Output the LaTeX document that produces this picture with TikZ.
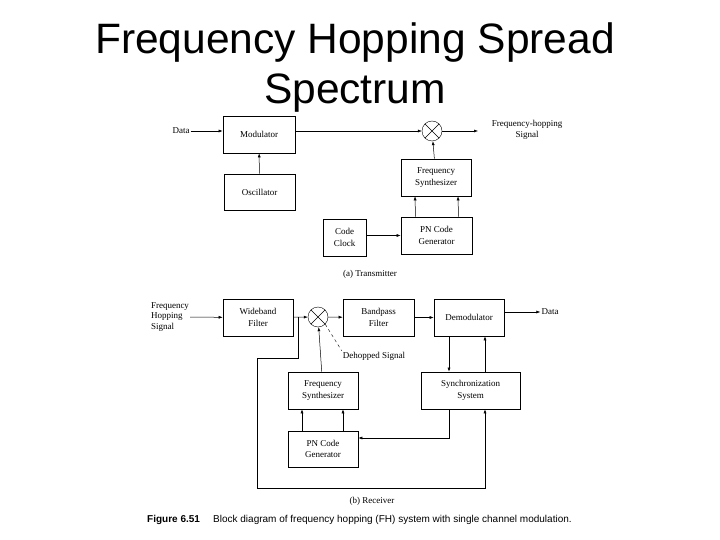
\documentclass[tikz,border=0pt]{standalone}
\usepackage{fontspec}
\setmainfont{Liberation Serif}
\newfontfamily\arialf{Liberation Sans}
\usetikzlibrary{arrows.meta}
\begin{document}
\begin{tikzpicture}[x=1pt,y=-1pt,
  blk/.style={draw,line width=0.6pt,font=\fontsize{9}{11.5}\selectfont,align=center,inner sep=0pt},
  lbl/.style={font=\fontsize{9}{10.5}\selectfont,align=center,inner sep=1pt},
  mix/.style={draw,circle,minimum size=20pt,inner sep=0pt,path picture={\draw (path picture bounding box.north west)--(path picture bounding box.south east) (path picture bounding box.north east)--(path picture bounding box.south west);}},
  arr/.style={-{Latex[length=4pt,width=3pt]},line width=0.5pt}]
\useasboundingbox (0,0) rectangle (720,540);
\node[font=\arialf\fontsize{42.5}{50}\selectfont,align=center] (title) at (355,68) {Frequency Hopping Spread\\Spectrum};
% transmitter
\node[blk,minimum width=72pt,minimum height=37pt] (mod) at (259,134.5) {Modulator};
\node[blk,minimum width=71pt,minimum height=36pt] (osc) at (259.5,192) {Oscillator};
\node[mix] (mx) at (432,131) {};
\node[blk,minimum width=70pt,minimum height=37pt] (fs) at (436,177.5) {Frequency\\Synthesizer};
\node[blk,minimum width=71pt,minimum height=37pt] (pn) at (436.5,235.5) {PN Code\\Generator};
\node[blk,minimum width=43pt,minimum height=37pt] (cc) at (344.5,237.5) {Code\\Clock};
\node[lbl] (data) at (181,131) {Data};
\node[lbl] (fhs) at (527,130) {Frequency-hopping\\Signal};
\coordinate (mxout) at (478,131);
\draw[arr] (data) -- (mod.west|-data);
\draw[arr] (mod.east|-mx) -- (mx);
\draw[arr] (mx) -- (mxout);
\draw[arr] (osc) -- (mod);
\draw[arr] (fs) -- (mx);
\draw[arr] ([xshift=-21pt]pn.north) -- ([xshift=-21pt]fs.south);
\draw[arr] ([xshift=22pt]pn.north) -- ([xshift=22pt]fs.south);
\draw[arr] (cc.east|-pn) -- (pn.west);
\node[lbl] (capa) at (370,274) {(a) Transmitter};
% receiver
\node[blk,minimum width=70pt,minimum height=37pt] (wb) at (258,317.5) {Wideband\\Filter};
\node[mix] (mr) at (318,317) {};
\node[blk,minimum width=71pt,minimum height=37pt] (bp) at (378.5,317.5) {Bandpass\\Filter};
\node[blk,minimum width=70pt,minimum height=37pt] (dm) at (469,317.5) {Demodulator};
\node[blk,minimum width=99pt,minimum height=37pt] (sy) at (470.5,390.5) {Synchronization\\System};
\node[blk,minimum width=70pt,minimum height=37pt] (fr) at (323,390.5) {Frequency\\Synthesizer};
\node[blk,minimum width=70pt,minimum height=36pt] (pr) at (323,449) {PN Code\\Generator};
\node[lbl,align=left] (fin) at (170,317) {Frequency\\Hopping\\Signal};
\node[lbl] (dout) at (550,312) {Data};
\node[lbl] (dh) at (374,356) {Dehopped Signal};
\draw[arr] (fin) -- (wb);
\draw[arr] (wb) -- (mr);
\draw[arr] (mr) -- (bp);
\draw[arr] (bp) -- (dm.west|-bp);
\draw[arr] (dm.east|-dout) -- (dout);
\draw[arr] (fr) -- (mr);
\draw[arr] ([xshift=-21pt]pr.north) -- ([xshift=-21pt]fr.south);
\draw[arr] ([xshift=20pt]pr.north) -- ([xshift=20pt]fr.south);
\draw[arr] (dm.south-|449,0) -- (sy.north-|449,0);
\draw[arr] (sy.north-|485,0) -- (dm.south-|485,0);
\draw[arr] (sy.south-|449,0) |- (pr.east|-0,438);
\draw[arr] (298,317) |- (257,358) |- (485,488) -- (sy.south-|485,0);
\draw[dashed,line width=0.4pt] (mr.south east) -- (dh.north west);
\node[lbl] (capb) at (372,501) {(b) Receiver};
\node[font=\arialf\bfseries\fontsize{10}{12}\selectfont,anchor=west,inner sep=0pt] (fig) at (147,520) {Figure 6.51};
\node[font=\arialf\fontsize{10}{12}\selectfont,anchor=west,inner sep=0pt] (cap) at (213,520) {Block diagram of frequency hopping (FH) system with single channel modulation.};
\end{tikzpicture}
\end{document}
